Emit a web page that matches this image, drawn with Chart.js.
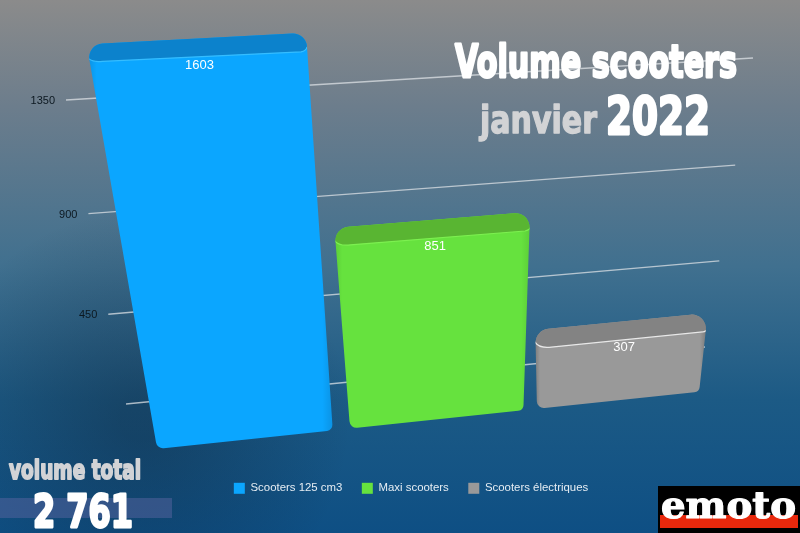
<!DOCTYPE html>
<html>
<head>
<meta charset="utf-8">
<title>Volume scooters janvier 2022</title>
<script src="https://cdn.jsdelivr.net/npm/chart.js"></script>
<style>
  html, body { margin:0; padding:0; background:#0f5083; }
  #wrap { width:800px; height:533px; }
</style>
</head>
<body>
<div id="wrap"><canvas id="chart" width="800" height="533"></canvas></div>
<script>
// ================= DATA =================
const categories = ["janvier 2022"];
const seriesNames = ["Scooters 125 cm3", "Maxi scooters", "Scooters électriques"];
const seriesValues = [1603, 851, 307];
const tickValues = [0, 450, 900, 1350];
const tickLabels = ["", "450", "900", "1350"];
const totalLabel = "2 761";

const seriesColors = ["#0ba6ff", "#66e23e", "#999999"];
const topColors = ["#0c82cc", "#59b532", "#838383"];
const edgeColors = ["#0b8fdf", "#5bcc38", "#6f6f6f"];
const lightColors = ["#35bdff", "#7cf050", "#e8e8e8"];
const barWidths = [0.89, 0.93, 0.92];

// ================= PERSPECTIVE =================
// unit square -> quad, corners are (0,0) (1,0) (1,1) (0,1)
function makeWarp(q) {
  const [p0, p1, p2, p3] = q;
  const dx1 = p1[0] - p2[0], dx2 = p3[0] - p2[0], sx = p0[0] - p1[0] + p2[0] - p3[0];
  const dy1 = p1[1] - p2[1], dy2 = p3[1] - p2[1], sy = p0[1] - p1[1] + p2[1] - p3[1];
  const den = dx1 * dy2 - dx2 * dy1;
  const g = (sx * dy2 - dx2 * sy) / den;
  const h = (dx1 * sy - sx * dy1) / den;
  const a = p1[0] - p0[0] + g * p1[0], b = p3[0] - p0[0] + h * p3[0];
  const d = p1[1] - p0[1] + g * p1[1], e = p3[1] - p0[1] + h * p3[1];
  return (u, v) => {
    const w = g * u + h * v + 1;
    return [(a * u + b * v + p0[0]) / w, (d * u + e * v + p0[1]) / w];
  };
}

// wall behind the bars, v = 1 is the 1350 line
const wallRef = 1350;
const wall = makeWarp([[126, 404], [705, 347], [753, 58], [66, 100]]);
// plane of the front of the bars, v = 1 is the top of the first bar
const frontRef = 1603;
const front = makeWarp([[146, 450], [706, 391], [753, 30], [77, 63]]);

function project(chart, warp, ref, px, py) {
  const a = chart.chartArea, y = chart.scales.y;
  const u = (px - a.left) / (a.right - a.left);
  const v = (y.getPixelForValue(0) - py) / (y.getPixelForValue(0) - y.getPixelForValue(ref));
  return warp(u, v);
}

function roundedPoly(ctx, pts, radii) {
  const n = pts.length;
  const start = [(pts[n - 1][0] + pts[0][0]) / 2, (pts[n - 1][1] + pts[0][1]) / 2];
  ctx.beginPath();
  ctx.moveTo(start[0], start[1]);
  pts.forEach((p, i) => {
    const next = pts[(i + 1) % n];
    ctx.arcTo(p[0], p[1], next[0], next[1], radii[i]);
  });
  ctx.closePath();
}

function heavyText(ctx, text, x, y, size, family, color, widthTo, stroke) {
  ctx.save();
  ctx.font = "bold " + size + "px " + family;
  ctx.fillStyle = color;
  ctx.strokeStyle = color;
  ctx.lineWidth = stroke;
  ctx.lineJoin = "round";
  ctx.textBaseline = "alphabetic";
  ctx.textAlign = "left";
  const w = ctx.measureText(text).width;
  ctx.translate(x, y);
  ctx.scale(widthTo / w, 1);
  ctx.strokeText(text, 0, 0);
  ctx.fillText(text, 0, 0);
  ctx.restore();
}

// ================= PLUGIN =================
const scene = {
  id: "scene",
  beforeDraw(chart) {
    const ctx = chart.ctx;
    const g = ctx.createLinearGradient(0, 0, 0, 533);
    g.addColorStop(0, "#8b8b8b");
    g.addColorStop(0.2, "#6c7d8c");
    g.addColorStop(0.5, "#40708f");
    g.addColorStop(0.75, "#1c5a85");
    g.addColorStop(1, "#0e4f84");
    ctx.fillStyle = g;
    ctx.fillRect(0, 0, 800, 533);
    // darker floor round the first bar
    const s = ctx.createRadialGradient(140, 420, 20, 140, 420, 210);
    s.addColorStop(0, "rgba(14,34,54,0.38)");
    s.addColorStop(1, "rgba(14,34,54,0)");
    ctx.fillStyle = s;
    ctx.fillRect(0, 200, 400, 333);
  },
  beforeDatasetsDraw(chart) {
    const ctx = chart.ctx, y = chart.scales.y;

    // grid lines and tick labels
    ctx.save();
    tickValues.forEach((val, i) => {
      const py = y.getPixelForValue(val);
      const l = project(chart, wall, wallRef, chart.chartArea.left, py);
      const r = project(chart, wall, wallRef, chart.chartArea.right, py);
      ctx.strokeStyle = "rgba(222,226,230,0.75)";
      ctx.lineWidth = 1.3;
      ctx.beginPath();
      ctx.moveTo(l[0], l[1]);
      ctx.lineTo(r[0], r[1]);
      ctx.stroke();
      ctx.fillStyle = "#0c1820";
      ctx.font = "11px 'Liberation Sans'";
      ctx.textAlign = "right";
      ctx.textBaseline = "middle";
      ctx.fillText(tickLabels[i], l[0] - 11, l[1] + 1);
    });
    ctx.restore();

    // bars
    chart.data.datasets.forEach((ds, i) => {
      const bar = chart.getDatasetMeta(i).data[0];
      const x0 = bar.x - bar.width / 2, x1 = bar.x + bar.width / 2;
      const bl = project(chart, front, frontRef, x0, bar.base);
      const br = project(chart, front, frontRef, x1, bar.base);
      const fl = project(chart, front, frontRef, x0, bar.y);
      const fr = project(chart, front, frontRef, x1, bar.y);
      const tl = [fl[0] - 4, fl[1] - 18];
      const tr = [fr[0] + 1, fr[1] - 19];

      ctx.save();
      roundedPoly(ctx, [bl, br, tr, tl], [7, 6, 14, 14]);
      ctx.clip();

      const shade = ctx.createLinearGradient(Math.min(bl[0], fl[0]) - 4, 0, Math.max(br[0], fr[0]) + 2, 0);
      shade.addColorStop(0, edgeColors[i]);
      shade.addColorStop(0.04, seriesColors[i]);
      shade.addColorStop(0.95, seriesColors[i]);
      shade.addColorStop(1, edgeColors[i]);
      ctx.fillStyle = shade;
      ctx.fillRect(0, 0, 800, 533);

      // top face, the front edge bends up at both ends
      const edge = () => {
        ctx.moveTo(fl[0] - 6, fl[1] - 9);
        ctx.quadraticCurveTo(fl[0] - 2, fl[1] + 1, fl[0] + 12, fl[1] - 1);
        ctx.lineTo(fr[0] - 4, fr[1]);
        ctx.quadraticCurveTo(fr[0] + 1, fr[1] - 1, fr[0] + 2, fr[1] - 5);
      };
      ctx.fillStyle = topColors[i];
      ctx.beginPath();
      edge();
      ctx.lineTo(tr[0] + 4, tr[1] - 4);
      ctx.lineTo(tl[0] - 4, tl[1] - 4);
      ctx.closePath();
      ctx.fill();

      ctx.strokeStyle = lightColors[i];
      ctx.lineWidth = 1.2;
      ctx.beginPath();
      edge();
      ctx.stroke();
      ctx.restore();

      // value label
      const mid = project(chart, front, frontRef, bar.x, bar.y);
      ctx.fillStyle = "#ffffff";
      ctx.font = "13px 'Liberation Sans'";
      ctx.textAlign = "center";
      ctx.textBaseline = "middle";
      ctx.fillText(String(ds.data[0]), mid[0], mid[1] + 8);
    });
    return false;
  },
  afterDraw(chart) {
    const ctx = chart.ctx;
    const heavy = "'DejaVu Sans'";

    heavyText(ctx, "Volume scooters", 455, 77, 45, heavy, "#ffffff", 282, 2.8);
    heavyText(ctx, "janvier", 480, 133, 37, heavy, "#d2d3d5", 117, 1.4);
    heavyText(ctx, "2022", 606, 134, 51, heavy, "#ffffff", 104, 2.8);

    ctx.fillStyle = "rgba(88,100,160,0.5)";
    ctx.fillRect(0, 498, 172, 20);
    heavyText(ctx, "volume total", 9, 479, 27, heavy, "#d2d3d6", 132, 2);
    heavyText(ctx, totalLabel, 33, 527, 45, heavy, "#ffffff", 100, 2.8);

    // logo
    ctx.fillStyle = "#000000";
    ctx.fillRect(658, 486, 142, 47);
    ctx.fillStyle = "#e8280c";
    ctx.fillRect(660, 515, 138, 13);
    heavyText(ctx, "emoto", 661, 518, 37, "'DejaVu Serif'", "#ffffff", 135, 1.2);
  }
};

// ================= CHART =================
new Chart(document.getElementById("chart"), {
  type: "bar",
  data: {
    labels: categories,
    datasets: seriesNames.map((name, i) => ({
      label: name,
      data: [seriesValues[i]],
      backgroundColor: seriesColors[i],
      barPercentage: barWidths[i],
      borderWidth: 0
    }))
  },
  options: {
    responsive: false,
    animation: false,
    devicePixelRatio: 1,
    layout: { padding: { left: 22, right: 0, top: 0, bottom: 29 } },
    datasets: { bar: { categoryPercentage: 1 } },
    scales: {
      x: { display: false },
      y: {
        display: false,
        min: 0,
        max: 1800,
        afterBuildTicks: (axis) => { axis.ticks = tickValues.map((v) => ({ value: v })); }
      }
    },
    plugins: {
      tooltip: { enabled: false },
      legend: {
        position: "bottom",
        labels: {
          boxWidth: 11,
          boxHeight: 11,
          padding: 19.5,
          color: "#e6edf3",
          font: { family: "'Liberation Sans'", size: 11.4 }
        }
      }
    }
  },
  plugins: [scene]
});
</script>
</body>
</html>
